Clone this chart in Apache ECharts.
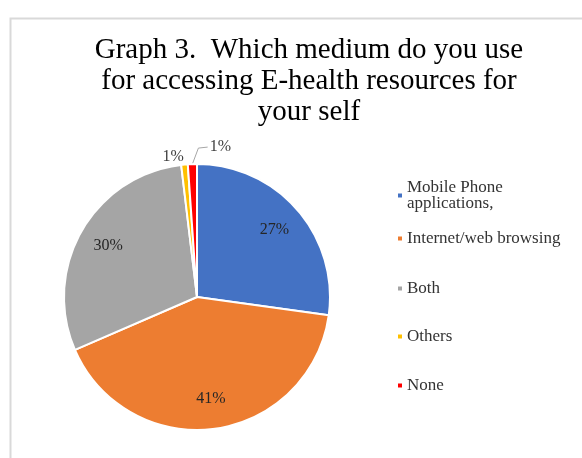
<!DOCTYPE html>
<html>
<head>
<meta charset="utf-8">
<script src="https://cdn.jsdelivr.net/npm/echarts@6/dist/echarts.min.js"></script>
<style>
  html, body { margin: 0; padding: 0; background: #fff; }
  #chart { width: 582px; height: 458px; }
</style>
</head>
<body>
<div id="chart"></div>
<script>
var categories = ['Mobile Phone\napplications,', 'Internet/web browsing', 'Both', 'Others', 'None'];
var values = [27.2, 41.3, 29.6, 0.8, 1.1];
var colors = ['#4472C4', '#ED7D31', '#A5A5A5', '#FFC000', '#FF0000'];
var legendTops = [174, 225, 275, 323, 372];

var chart = echarts.init(document.getElementById('chart'));
var font = '"Liberation Serif", "DejaVu Serif", serif';

var pieData = categories.map(function(name, i) {
    return { name: name, value: values[i], itemStyle: { color: colors[i] } };
});

// one legend per item so the spacing can follow the picture
var legends = categories.map(function(name, i) {
    return {
        data: [name],
        orient: 'vertical',
        left: 391,
        top: legendTops[i],
        icon: 'rect',
        itemWidth: 6,
        itemHeight: 6,
        itemGap: 0,
        selectedMode: false,
        textStyle: { fontFamily: font, fontSize: 17, color: '#333', lineHeight: 16, padding: [0, 0, 0, -1] }
    };
});

var option = {
    animation: false,
    title: {
        text: 'Graph 3.  Which medium do you use\nfor accessing E-health resources for\nyour self',
        left: 304,
        textAlign: 'center',
        top: 30,
        textStyle: { fontFamily: font, fontSize: 29, fontWeight: 'normal', color: '#000', lineHeight: 31 }
    },
    legend: legends,
    graphic: [{
        type: 'rect',
        left: 8, top: 16,
        shape: { width: 620, height: 500 },
        style: { fill: 'none', stroke: '#d9d9d9', lineWidth: 2 },
        silent: true
    }],
    series: [
        {
            type: 'pie',
            center: [197, 297],
            radius: [0, 133],
            startAngle: 90,
            clockwise: true,
            percentPrecision: 0,
            data: pieData.map(function(d, i) {
                var small = values[i] < 5;
                return Object.assign({}, d, {
                    label: {
                        show: small,
                        position: 'outside',
                        formatter: '{d}%'
                    },
                    labelLine: { show: i === 4, length: 12, length2: 10, lineStyle: { color: '#a6a6a6', width: 1 } }
                });
            }),
            itemStyle: { borderColor: '#fff', borderWidth: 2 },
            label: { fontFamily: font, fontSize: 16, color: '#404040', distanceToLabelLine: 2 },
            labelLayout: function(p) {
                if (p.dataIndex === 4) {
                    var dx = 51, dy = -5;
                    var start = p.labelLinePoints ? p.labelLinePoints[0] : null;
                    var midY = p.labelRect.y + dy + p.labelRect.height / 2;
                    var leftX = p.labelRect.x + dx - 2;
                    var out = { dx: dx, dy: dy };
                    if (start) {
                        out.labelLinePoints = [start, [start[0] + 6, midY + 1], [leftX, midY]];
                    }
                    return out;
                }
                if (p.dataIndex === 3) return { dx: 67, dy: -13 };
                return {};
            },
            emphasis: { disabled: true }
        },
        {
            type: 'pie',
            center: [197, 297],
            radius: [66, 133],
            startAngle: 90,
            clockwise: true,
            silent: true,
            percentPrecision: 0,
            data: pieData.map(function(d, i) {
                return {
                    name: d.name,
                    value: d.value,
                    itemStyle: { color: 'transparent', borderWidth: 0 },
                    label: { show: values[i] >= 5 }
                };
            }),
            label: { position: 'inside', formatter: '{d}%', fontFamily: font, fontSize: 16, color: '#262626' },
            labelLine: { show: false },
            legendHoverLink: false
        }
    ]
};

chart.setOption(option);
</script>
</body>
</html>
